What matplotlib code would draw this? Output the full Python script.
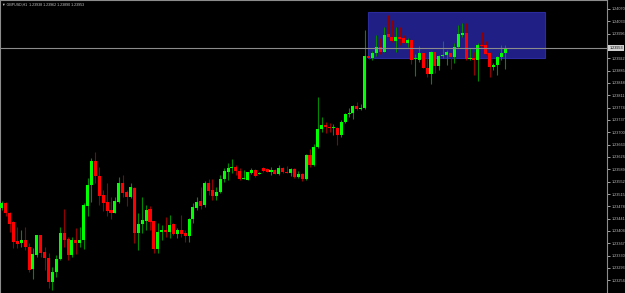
import numpy as np
import matplotlib
matplotlib.use("Agg")
import matplotlib.pyplot as plt
from matplotlib.patches import Rectangle

# ---- H1 candles (open / high / low / close) ----
opens = [1.23473, 1.23488, 1.23458, 1.23431, 1.23374, 1.23368, 1.23377, 1.23356, 1.23290, 1.23332,
         1.23392, 1.23341, 1.23323, 1.23251, 1.23281, 1.23320, 1.23398, 1.23380, 1.23332, 1.23377,
         1.23368, 1.23377, 1.23479, 1.23542, 1.23614, 1.23569, 1.23512, 1.23491, 1.23467, 1.23458,
         1.23491, 1.23548, 1.23521, 1.23506, 1.23533, 1.23398, 1.23425, 1.23434, 1.23470, 1.23434,
         1.23350, 1.23401, 1.23407, 1.23401, 1.23425, 1.23395, 1.23407, 1.23398, 1.23389, 1.23440,
         1.23473, 1.23494, 1.23482, 1.23548, 1.23527, 1.23509, 1.23521, 1.23560, 1.23581, 1.23593,
         1.23596, 1.23584, 1.23560, 1.23557, 1.23578, 1.23587, 1.23575, 1.23593, 1.23590, 1.23581,
         1.23587, 1.23575, 1.23593, 1.23581, 1.23578, 1.23590, 1.23566, 1.23575, 1.23560, 1.23632,
         1.23602, 1.23656, 1.23710, 1.23722, 1.23716, 1.23713, 1.23713, 1.23692, 1.23731, 1.23755,
         1.23758, 1.23779, 1.23770, 1.23773, 1.23929, 1.23923, 1.23938, 1.23956, 1.23941, 1.23995,
         1.23986, 1.23974, 1.23986, 1.23983, 1.23968, 1.23977, 1.23920, 1.23917, 1.23938, 1.23893,
         1.23875, 1.23941, 1.23899, 1.23929, 1.23932, 1.23938, 1.23926, 1.23956, 1.23992, 1.23998,
         1.23920, 1.23923, 1.23917, 1.23962, 1.23962, 1.23938, 1.23896, 1.23902, 1.23926, 1.23938]

highs = [1.23494, 1.23491, 1.23461, 1.23434, 1.23416, 1.23407, 1.23416, 1.23368, 1.23353, 1.23392,
         1.23392, 1.23356, 1.23338, 1.23296, 1.23332, 1.23416, 1.23470, 1.23386, 1.23386, 1.23413,
         1.23416, 1.23488, 1.23563, 1.23623, 1.23641, 1.23596, 1.23527, 1.23548, 1.23506, 1.23506,
         1.23566, 1.23572, 1.23527, 1.23548, 1.23536, 1.23458, 1.23506, 1.23482, 1.23479, 1.23434,
         1.23428, 1.23422, 1.23446, 1.23452, 1.23428, 1.23413, 1.23452, 1.23407, 1.23443, 1.23488,
         1.23506, 1.23536, 1.23554, 1.23560, 1.23560, 1.23536, 1.23572, 1.23593, 1.23608, 1.23620,
         1.23602, 1.23593, 1.23587, 1.23581, 1.23593, 1.23590, 1.23581, 1.23596, 1.23593, 1.23596,
         1.23590, 1.23602, 1.23596, 1.23599, 1.23593, 1.23593, 1.23584, 1.23578, 1.23635, 1.23650,
         1.23665, 1.23806, 1.23746, 1.23731, 1.23728, 1.23725, 1.23716, 1.23737, 1.23758, 1.23773,
         1.23782, 1.23791, 1.23785, 1.24007, 1.23932, 1.23944, 1.23992, 1.23983, 1.24016, 1.24052,
         1.24037, 1.24016, 1.24016, 1.23992, 1.23983, 1.23983, 1.23935, 1.23959, 1.23956, 1.23923,
         1.23944, 1.23941, 1.23932, 1.23974, 1.23947, 1.23941, 1.23968, 1.24022, 1.24028, 1.24028,
         1.23953, 1.23941, 1.23968, 1.24001, 1.23974, 1.23941, 1.23908, 1.23929, 1.23962, 1.23962]

lows = [1.23467, 1.23449, 1.23401, 1.23353, 1.23353, 1.23356, 1.23347, 1.23281, 1.23260, 1.23326,
        1.23326, 1.23287, 1.23233, 1.23227, 1.23266, 1.23317, 1.23356, 1.23317, 1.23326, 1.23335,
        1.23356, 1.23350, 1.23449, 1.23491, 1.23548, 1.23482, 1.23464, 1.23449, 1.23440, 1.23458,
        1.23488, 1.23506, 1.23479, 1.23503, 1.23368, 1.23347, 1.23398, 1.23407, 1.23407, 1.23338,
        1.23338, 1.23377, 1.23386, 1.23383, 1.23392, 1.23383, 1.23386, 1.23371, 1.23371, 1.23428,
        1.23467, 1.23470, 1.23476, 1.23512, 1.23497, 1.23497, 1.23518, 1.23551, 1.23557, 1.23578,
        1.23572, 1.23557, 1.23560, 1.23557, 1.23575, 1.23566, 1.23575, 1.23581, 1.23581, 1.23572,
        1.23575, 1.23572, 1.23578, 1.23578, 1.23569, 1.23563, 1.23563, 1.23554, 1.23557, 1.23596,
        1.23599, 1.23653, 1.23701, 1.23698, 1.23701, 1.23692, 1.23662, 1.23686, 1.23728, 1.23746,
        1.23740, 1.23767, 1.23767, 1.23770, 1.23920, 1.23917, 1.23929, 1.23935, 1.23941, 1.23986,
        1.23971, 1.23941, 1.23962, 1.23968, 1.23956, 1.23905, 1.23869, 1.23911, 1.23893, 1.23866,
        1.23845, 1.23878, 1.23887, 1.23923, 1.23902, 1.23890, 1.23908, 1.23953, 1.23986, 1.23917,
        1.23917, 1.23872, 1.23854, 1.23956, 1.23932, 1.23866, 1.23887, 1.23872, 1.23917, 1.23890]

closes = [1.23488, 1.23458, 1.23425, 1.23371, 1.23365, 1.23377, 1.23356, 1.23287, 1.23335, 1.23392,
          1.23338, 1.23323, 1.23251, 1.23281, 1.23320, 1.23398, 1.23377, 1.23332, 1.23377, 1.23368,
          1.23377, 1.23482, 1.23542, 1.23614, 1.23569, 1.23509, 1.23488, 1.23464, 1.23458, 1.23494,
          1.23548, 1.23518, 1.23506, 1.23536, 1.23398, 1.23425, 1.23437, 1.23467, 1.23431, 1.23350,
          1.23401, 1.23407, 1.23401, 1.23422, 1.23395, 1.23407, 1.23395, 1.23389, 1.23440, 1.23476,
          1.23491, 1.23479, 1.23548, 1.23524, 1.23509, 1.23521, 1.23560, 1.23584, 1.23593, 1.23596,
          1.23584, 1.23560, 1.23563, 1.23581, 1.23587, 1.23569, 1.23578, 1.23584, 1.23581, 1.23587,
          1.23575, 1.23593, 1.23581, 1.23578, 1.23590, 1.23566, 1.23575, 1.23560, 1.23632, 1.23602,
          1.23656, 1.23710, 1.23722, 1.23716, 1.23713, 1.23716, 1.23692, 1.23731, 1.23755, 1.23758,
          1.23779, 1.23770, 1.23773, 1.23929, 1.23923, 1.23938, 1.23956, 1.23941, 1.23992, 1.23986,
          1.23974, 1.23986, 1.23980, 1.23968, 1.23977, 1.23917, 1.23923, 1.23938, 1.23893, 1.23875,
          1.23941, 1.23899, 1.23929, 1.23932, 1.23941, 1.23926, 1.23956, 1.23995, 1.23998, 1.23920,
          1.23923, 1.23917, 1.23962, 1.23959, 1.23935, 1.23896, 1.23902, 1.23926, 1.23938, 1.23953]

# price scale labels (MT4 style)
price_ticks = [1.24070, 1.24033, 1.23996, 1.23922, 1.23885, 1.23848, 1.23811, 1.23774,
               1.23737, 1.23700, 1.23663, 1.23626, 1.23589, 1.23552, 1.23515, 1.23478,
               1.23441, 1.23404, 1.23367, 1.23330, 1.23293, 1.23256]

symbol = "GBPUSD,H1"
zone_bars = (93.8, 139.2)        # rectangle from bar .. to bar
zone_prices = (1.23924, 1.24060)
bid = closes[-1]

narrow = ["Liberation Sans Narrow", "Liberation Sans", "DejaVu Sans"]

# ---- figure ----
W, H = 625, 293
fig = plt.figure(figsize=(W / 100, H / 100), dpi=100, facecolor="black")
ax = fig.add_axes([0, 0, 607 / W, 1], facecolor="black")

o = np.array(opens)
hi = np.array(highs)
lo = np.array(lows)
c = np.array(closes)
x = np.arange(len(o))
up = c >= o

# rectangle object behind the candles
ax.add_patch(Rectangle((zone_bars[0], zone_prices[0]),
                       zone_bars[1] - zone_bars[0], zone_prices[1] - zone_prices[0],
                       facecolor="#1f1f86", edgecolor="#2b2b9e", linewidth=0.8, zorder=1))

# wicks
ax.vlines(x[up], lo[up], hi[up], color="#008a00", linewidth=0.8, zorder=2)
ax.vlines(x[~up], lo[~up], hi[~up], color="#900000", linewidth=0.8, zorder=2)

# bodies
px = 0.00003  # about one pixel of price
body_bot = np.minimum(o, c)
body_h = np.maximum(np.abs(c - o), px)
ax.bar(x[up], body_h[up], bottom=body_bot[up], width=0.78, color="#00ff00",
       linewidth=0, zorder=3)
ax.bar(x[~up], body_h[~up], bottom=body_bot[~up], width=0.78, color="#ff0000",
       linewidth=0, zorder=3)

# bid line
ax.axhline(bid, color="#8c8c8c", linewidth=0.8, zorder=4)

ax.set_xlim(-0.44, 155.1)
ax.set_ylim(1.23218, 1.24097)

# price axis on the right
ax.yaxis.tick_right()
ax.set_yticks(price_ticks)
ax.set_yticklabels([f"{t:.5f}" for t in price_ticks], family=narrow)
ax.tick_params(axis="y", colors="#c0c0c0", labelsize=2.7, length=2, width=0.6, pad=1)
ax.set_xticks([])
for side in ["left", "right", "top"]:
    ax.spines[side].set_color("#8c8c8c")
    ax.spines[side].set_linewidth(0.8)
ax.spines["bottom"].set_visible(False)

# current price label
ax.annotate(f"{bid:.5f}", xy=(1, bid), xycoords=("axes fraction", "data"),
            xytext=(1.6, 0), textcoords="offset points", va="center", ha="left",
            fontsize=2.7, family=narrow, color="black", annotation_clip=False,
            bbox=dict(boxstyle="square,pad=0.2", facecolor="#d0d0d0", edgecolor="none"))

# header text
ax.text(0.004, 0.99, "\u25bc " + symbol + "  " +
        f"{opens[-1]:.5f} {highs[-1]:.5f} {lows[-1]:.5f} {closes[-1]:.5f}",
        transform=ax.transAxes, fontsize=2.6, family=narrow, color="#c8c8c8",
        va="top", ha="left")

fig.savefig("out.png", dpi=100, facecolor="black")
